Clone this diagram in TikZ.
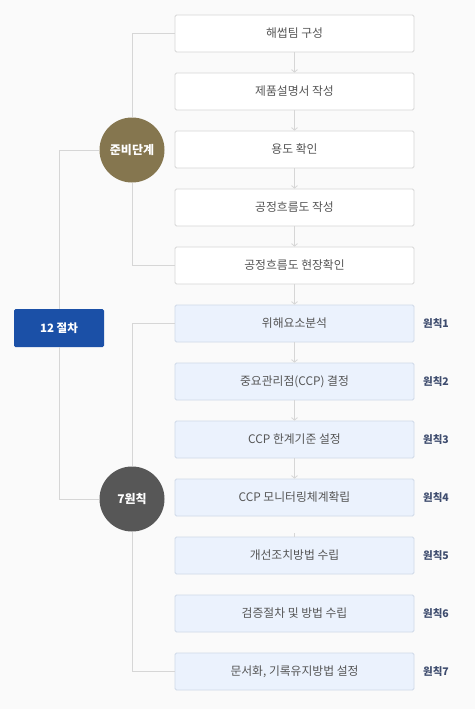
\documentclass[tikz,border=0pt]{standalone}
\usepackage{fontspec}
\setmainfont{Noto Sans CJK KR}
\usetikzlibrary{arrows.meta}
\definecolor{bgfill}{HTML}{FAFAFA}
\definecolor{stepline}{HTML}{D6D6D6}
\definecolor{steptext}{HTML}{555555}
\definecolor{rulefill}{HTML}{EBF2FD}
\definecolor{ruleline}{HTML}{CFD9E8}
\definecolor{ruletext}{HTML}{3E4C6E}
\definecolor{prepfill}{HTML}{85764F}
\definecolor{sevenfill}{HTML}{575757}
\definecolor{procfill}{HTML}{1B50A7}
\begin{document}
\begin{tikzpicture}
[x=1pt,y=-1pt,%
  link/.style={draw=stepline,line width=0.8pt},%
  flow/.style={link,-{Straight Barb[length=2.5pt,width=6pt]}},%
  whitebox/.style={shape=rectangle,rounded corners=1.5pt,draw=stepline,fill=white,line width=0.8pt,%
    minimum width=239pt,minimum height=37pt,text=steptext,font=\fontsize{11.8}{13}\selectfont},%
  bluebox/.style={whitebox,draw=ruleline,fill=rulefill},%
  rulelabel/.style={text=ruletext,font=\fontsize{10.5}{12}\selectfont\bfseries},%
  phase/.style={shape=circle,minimum size=65pt,inner sep=0pt,text=white,font=\fontsize{12}{13}\selectfont\bfseries}]
\fill[bgfill] (0,0) rectangle (475,709);
% preparation steps
\node[whitebox] (b1) at (294.5,33.5) {해썹팀 구성};
\node[whitebox] (b2) at (294.5,91.5) {제품설명서 작성};
\node[whitebox] (b3) at (294.5,149.5) {용도 확인};
\node[whitebox] (b4) at (294.5,207.5) {공정흐름도 작성};
\node[whitebox] (b5) at (294.5,265.5) {공정흐름도 현장확인};
% seven principles
\node[bluebox] (b6) at (294.5,323.5) {위해요소분석};
\node[bluebox] (b7) at (294.5,381.5) {중요관리점(CCP) 결정};
\node[bluebox] (b8) at (294.5,439.5) {CCP 한계기준 설정};
\node[bluebox] (b9) at (294.5,497.5) {CCP 모니터링체계확립};
\node[bluebox] (b10) at (294.5,555.5) {개선조치방법 수립};
\node[bluebox] (b11) at (294.5,613.5) {검증절차 및 방법 수립};
\node[bluebox] (b12) at (294.5,671.5) {문서화, 기록유지방법 설정};
\node[rulelabel] (r1) at (436,323.5) {원칙1};
\node[rulelabel] (r2) at (436,381.5) {원칙2};
\node[rulelabel] (r3) at (436,439.5) {원칙3};
\node[rulelabel] (r4) at (436,497.5) {원칙4};
\node[rulelabel] (r5) at (436,555.5) {원칙5};
\node[rulelabel] (r6) at (436,613.5) {원칙6};
\node[rulelabel] (r7) at (436,671.5) {원칙7};
% groups
\node[phase,fill=prepfill] (prep) at (132,150) {준비단계};
\node[phase,fill=sevenfill] (seven) at (132,499) {7원칙};
\node[shape=rectangle,rounded corners=1.5pt,fill=procfill,minimum width=90pt,minimum height=38pt,%
  text=white,font=\fontsize{11.5}{13}\selectfont\bfseries] (proc) at (59,328) {12 절차};
\coordinate (stub) at (294.5,533);
% connectors
\draw[flow] (b1) -- (b2);
\draw[flow] (b2) -- (b3);
\draw[flow] (b3) -- (b4);
\draw[flow] (b4) -- (b5);
\draw[flow] (b5) -- (b6);
\draw[flow] (b6) -- (b7);
\draw[flow] (b7) -- (b8);
\draw[flow] (b8) -- (b9);
\draw[link] (stub) -- (b10.north);
\draw[link] (prep.north) |- (b1.west);
\draw[link] (prep.south) |- (b5.west);
\draw[link] (seven.north) |- (b6.west);
\draw[link] (seven.south) |- (b12.west);
\draw[link] (proc.north) |- (prep.west);
\draw[link] (proc.south) |- (seven.west);
\end{tikzpicture}
\end{document}
